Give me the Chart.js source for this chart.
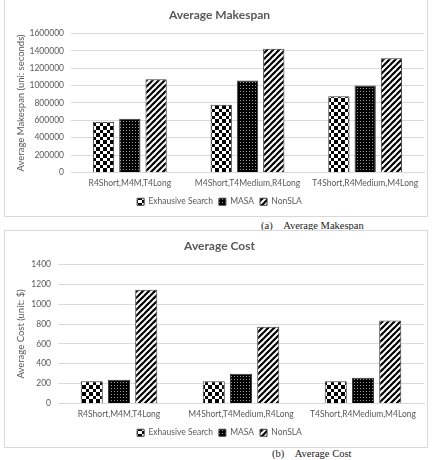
<!DOCTYPE html>
<html>
<head>
<meta charset="utf-8">
<script src="https://cdn.jsdelivr.net/npm/chart.js@4.4.0/dist/chart.umd.min.js"></script>
<style>
html,body{margin:0;padding:0;background:#fff;}
body{width:438px;height:460px;position:relative;overflow:hidden;}
.box{position:absolute;left:4px;width:424px;border:1px solid #d9d9d9;box-sizing:border-box;}
.box canvas{position:absolute;left:0;top:0;}
.cap{position:absolute;font-family:"Liberation Serif","Times New Roman",serif;font-size:10.5px;color:#222;white-space:nowrap;}
</style>
</head>
<body>
<div class="box" id="b1" style="top:-1px;height:218px;"><canvas id="c1" width="422" height="216"></canvas></div>
<div class="cap" style="left:261px;top:220px;">(a)&nbsp;&nbsp;&nbsp;&nbsp;Average Makespan</div>
<div class="box" id="b2" style="top:230px;height:218px;"><canvas id="c2" width="422" height="216"></canvas></div>
<div class="cap" style="left:272px;top:448px;">(b)&nbsp;&nbsp;&nbsp;&nbsp;Average Cost</div>
<script>
// ---- data ----
const categories = ['R4Short,M4M,T4Long', 'M4Short,T4Medium,R4Long', 'T4Short,R4Medium,M4Long'];
const seriesNames = ['Exhausive Search', 'MASA', 'NonSLA'];
const makespanES = [585000, 778000, 877000];
const makespanMASA = [617000, 1057000, 1002000];
const makespanNonSLA = [1073000, 1423000, 1313000];
const costES = [225, 225, 225];
const costMASA = [238, 300, 258];
const costNonSLA = [1145, 772, 835];
const makespanTicks = [0, 200000, 400000, 600000, 800000, 1000000, 1200000, 1400000, 1600000];
const costTicks = [0, 200, 400, 600, 800, 1000, 1200, 1400];

// ---- patterns ----
function makePattern(kind) {
  const c = document.createElement('canvas');
  const ctx = c.getContext('2d');
  if (kind === 'check') {
    c.width = 7; c.height = 7;
    ctx.fillStyle = '#fff'; ctx.fillRect(0, 0, 7, 7);
    ctx.fillStyle = '#000';
    ctx.fillRect(0, 0, 4, 4); ctx.fillRect(4, 4, 3, 3);
  } else if (kind === 'dots') {
    c.width = 3; c.height = 3;
    ctx.fillStyle = '#000'; ctx.fillRect(0, 0, 3, 3);
    ctx.fillStyle = '#9a9a9a'; ctx.fillRect(1, 1, 1, 1);
  } else {
    c.width = 6; c.height = 6;
    ctx.fillStyle = '#fff'; ctx.fillRect(0, 0, 6, 6);
    ctx.strokeStyle = '#000'; ctx.lineWidth = 2.2;
    for (let k = -1; k <= 1; k++) {
      ctx.beginPath();
      ctx.moveTo(k * 6 - 1, 7); ctx.lineTo(k * 6 + 7, -1);
      ctx.stroke();
    }
  }
  return ctx.createPattern(c, 'repeat');
}
const patES = makePattern('check');
const patMASA = makePattern('dots');
const patNon = makePattern('stripes');

const FONT = 'Lato, "Liberation Sans", sans-serif';
const GREY = '#595959';

function build(id, title, yTitle, es, masa, non, ticks, yWidth) {
  const mk = (label, data, pat) => ({
    label, data, backgroundColor: pat, borderColor: '#3a3a3a', borderWidth: 1,
    categoryPercentage: 0.67, barPercentage: 0.81
  });
  return new Chart(document.getElementById(id), {
    type: 'bar',
    data: {
      labels: categories,
      datasets: [mk(seriesNames[0], es, patES), mk(seriesNames[1], masa, patMASA), mk(seriesNames[2], non, patNon)]
    },
    options: {
      responsive: false,
      animation: false,
      devicePixelRatio: 1,
      layout: { padding: { left: 10, right: 3, top: 4, bottom: 0 } },
      plugins: {
        tooltip: { enabled: false },
        title: {
          display: true, text: title, color: GREY,
          font: { family: FONT, size: 12, weight: 'bold' },
          padding: { top: 4, bottom: 11 }
        },
        legend: {
          position: 'bottom',
          labels: {
            boxWidth: 7, boxHeight: 7, color: GREY, padding: 6,
            font: { family: FONT, size: 8.5 }
          }
        }
      },
      scales: {
        x: {
          grid: { display: false, drawTicks: false },
          border: { color: '#d9d9d9' },
          afterFit: (s) => { s.height = 19; },
          ticks: { color: GREY, font: { family: FONT, size: 8.5 }, padding: 6, maxRotation: 0 }
        },
        y: {
          min: ticks[0], max: ticks[ticks.length - 1],
          afterBuildTicks: (s) => { s.ticks = ticks.map(v => ({ value: v })); },
          afterFit: (s) => { s.width = yWidth; },
          grid: { color: '#d9d9d9', drawTicks: false },
          border: { display: false },
          ticks: { color: GREY, font: { family: FONT, size: 8.5 }, padding: 7, callback: (v) => String(v) },
          title: { display: true, text: yTitle, color: GREY, font: { family: FONT, size: 9.5 }, padding: 0 }
        }
      }
    }
  });
}
build('c1', 'Average Makespan', 'Average Makespan (uni: seconds)', makespanES, makespanMASA, makespanNonSLA, makespanTicks, 56);
build('c2', 'Average Cost', 'Average Cost (unit: $)', costES, costMASA, costNonSLA, costTicks, 43);
</script>
</body>
</html>
